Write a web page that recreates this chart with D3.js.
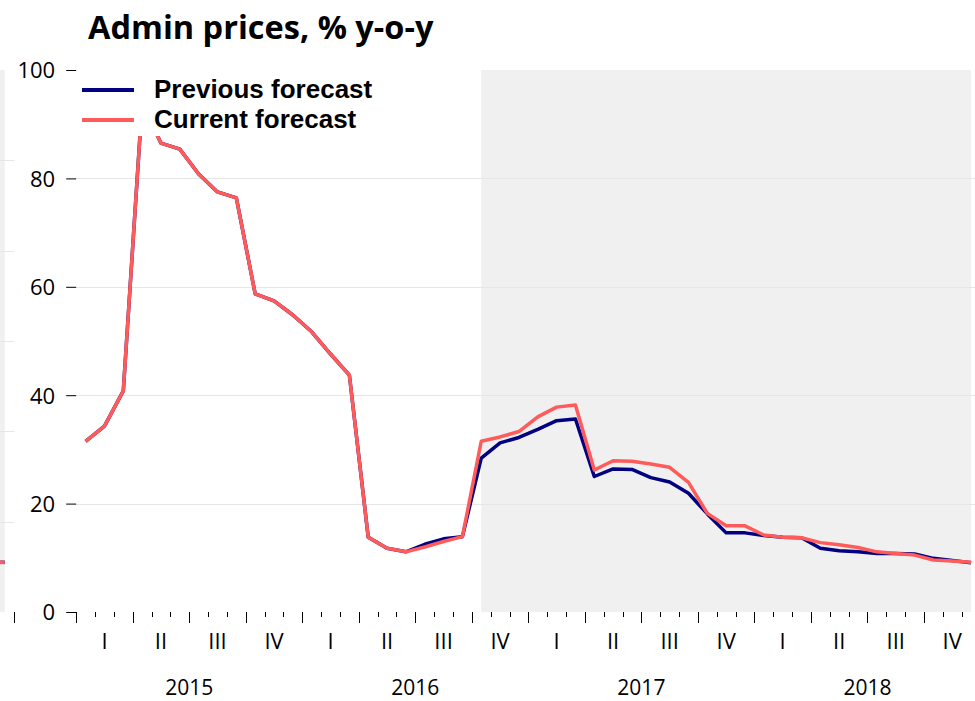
<!DOCTYPE html>
<html>
<head>
<meta charset="utf-8">
<script src="https://cdn.jsdelivr.net/npm/d3@7"></script>
<style>
  html, body { margin: 0; padding: 0; background: #fff; }
  svg { display: block; }
</style>
</head>
<body>
<svg id="chart" width="975" height="701"></svg>
<script>
// ---- data ----------------------------------------------------------------
const years = ["2015", "2016", "2017", "2018"];
const quarters = ["I", "II", "III", "IV"];
const months = d3.timeMonth
  .range(new Date(2015, 0, 1), new Date(2019, 0, 1))
  .map(d3.timeFormat("%Y-%m"));
const forecastStart = "2016-10";
const yTicks = [0, 20, 40, 60, 80, 100];

// Administered prices, % y-o-y, monthly Jan 2015 - Dec 2018
const previousForecast = [
  31.5, 34.3, 40.8, 94.0, 86.5, 85.4, 80.8, 77.5, 76.4, 58.7, 57.4, 54.8,
  51.7, 47.6, 43.7, 13.8, 11.75, 11.1, 12.5, 13.5, 13.9, 28.4, 31.2, 32.2,
  33.7, 35.3, 35.6, 25.0, 26.4, 26.3, 24.8, 24.0, 21.9, 18.1, 14.6, 14.6,
  14.1, 13.8, 13.7, 11.75, 11.3, 11.1, 10.8, 10.8, 10.7, 9.9, 9.5, 9.1
];
const currentForecast = [
  31.5, 34.3, 40.8, 94.0, 86.5, 85.4, 80.8, 77.5, 76.4, 58.7, 57.4, 54.8,
  51.7, 47.6, 43.7, 13.8, 11.75, 11.1, 12.0, 13.0, 13.9, 31.5, 32.3, 33.3,
  36.0, 37.8, 38.2, 26.2, 27.9, 27.8, 27.3, 26.7, 23.9, 18.2, 15.9, 15.9,
  14.2, 13.8, 13.7, 12.8, 12.4, 11.9, 11.1, 10.8, 10.5, 9.6, 9.4, 9.2
];

// right-hand tail of the neighbouring panel (same months, own scale)
const neighbourTicks = [0, 2, 4, 6, 8, 10, 12];
const neighbourTail = [1.1, 1.1];

const series = [
  { name: "Previous forecast", values: previousForecast, color: "#000080" },
  { name: "Current forecast",  values: currentForecast,  color: "#ff5b5b" }
];

// ---- layout --------------------------------------------------------------
const svg = d3.select("#chart");
const plot = { left: 76.2, right: 980.5, top: 70, bottom: 612 };
const axisFont = "'Open Sans', sans-serif";

const x = d3.scaleBand().domain(months).range([plot.left, plot.right]);
const y = d3.scaleLinear().domain([0, 100]).range([plot.bottom, plot.top]);
const cx = m => x(m) + x.bandwidth() / 2;
const lastMonth = months[months.length - 1];

// ---- neighbouring panel edge ---------------------------------------------
const nPlotRight = 14.2;
const nx = d3.scaleBand().domain(months)
  .range([nPlotRight - months.length * x.bandwidth(), nPlotRight]);
const ny = d3.scaleLinear().domain([0, 12]).range([plot.bottom, plot.top]);
const ncx = m => nx(m) + nx.bandwidth() / 2;
const nb = svg.append("g");
nb.append("rect")
  .attr("x", ncx(forecastStart))
  .attr("y", ny(12))
  .attr("width", ncx(lastMonth) - ncx(forecastStart))
  .attr("height", ny(0) - ny(12))
  .attr("fill", "#f0f0f0");
nb.selectAll("line.grid")
  .data(neighbourTicks.filter(v => v > 0 && v < 12))
  .join("line")
  .attr("x1", nx.range()[0]).attr("x2", nPlotRight)
  .attr("y1", d => Math.round(ny(d)) + 0.5).attr("y2", d => Math.round(ny(d)) + 0.5)
  .attr("stroke", "#e6e6e6");
nb.append("line")
  .attr("x1", Math.round(nPlotRight) + 0.5).attr("x2", Math.round(nPlotRight) + 0.5)
  .attr("y1", plot.bottom).attr("y2", plot.bottom + 11)
  .attr("stroke", "#000");
const nTailMonths = months.slice(-neighbourTail.length);
series.forEach(s => {
  nb.append("path")
    .datum(neighbourTail)
    .attr("fill", "none")
    .attr("stroke", s.color)
    .attr("stroke-width", 3.5)
    .attr("d", d3.line().x((d, i) => ncx(nTailMonths[i])).y(d => ny(d)));
});

// ---- forecast shading ------------------------------------------------------
svg.append("rect")
  .attr("x", cx(forecastStart))
  .attr("y", y(100))
  .attr("width", cx(lastMonth) - cx(forecastStart))
  .attr("height", y(0) - y(100))
  .attr("fill", "#f0f0f0");

// ---- gridlines -------------------------------------------------------------
svg.append("g")
  .selectAll("line")
  .data(yTicks.filter(v => v > 0 && v < 100))
  .join("line")
  .attr("x1", plot.left).attr("x2", plot.right)
  .attr("y1", d => Math.round(y(d)) + 0.5).attr("y2", d => Math.round(y(d)) + 0.5)
  .attr("stroke", "#e6e6e6");

// ---- y axis ----------------------------------------------------------------
const yAxis = svg.append("g")
  .attr("transform", `translate(${plot.left},0)`)
  .call(d3.axisLeft(y).tickValues(yTicks).tickSize(10).tickPadding(11));
yAxis.select(".domain").remove();
yAxis.selectAll("line").attr("stroke", "#000");
yAxis.selectAll("text")
  .attr("fill", "#000")
  .style("font-family", axisFont)
  .style("font-size", "22px")
  .attr("dy", "0.36em");

// ---- x axis: month ticks, quarter and year labels ---------------------------
const boundaries = months.map(m => x(m)).concat([plot.right]);
svg.append("g")
  .selectAll("line")
  .data(boundaries)
  .join("line")
  .attr("x1", d => Math.round(d) + 0.5).attr("x2", d => Math.round(d) + 0.5)
  .attr("y1", plot.bottom)
  .attr("y2", (d, i) => plot.bottom + (i % 3 === 0 ? 11 : 5))
  .attr("stroke", "#000");

const quarterCells = [];
years.forEach((yr, yi) => quarters.forEach((q, qi) => {
  quarterCells.push({ label: q, first: months[yi * 12 + qi * 3] });
}));
svg.append("g")
  .selectAll("text")
  .data(quarterCells)
  .join("text")
  .attr("x", d => x(d.first) + 1.5 * x.bandwidth())
  .attr("y", 649)
  .attr("text-anchor", "middle")
  .style("font-family", axisFont)
  .style("font-size", "22px")
  .text(d => d.label);

svg.append("g")
  .selectAll("text")
  .data(years)
  .join("text")
  .attr("x", (d, i) => x(months[i * 12]) + 6 * x.bandwidth())
  .attr("y", 695)
  .attr("text-anchor", "middle")
  .style("font-family", axisFont)
  .style("font-size", "21px")
  .text(d => d);

// ---- series lines ------------------------------------------------------------
const line = d3.line().x((d, i) => cx(months[i])).y(d => y(d));
svg.append("g")
  .selectAll("path")
  .data(series)
  .join("path")
  .attr("fill", "none")
  .attr("stroke", d => d.color)
  .attr("stroke-width", 3.5)
  .attr("stroke-linejoin", "round")
  .attr("d", d => line(d.values));

// ---- legend ------------------------------------------------------------------
const legend = svg.append("g");
legend.append("rect")
  .attr("x", 78).attr("y", 72).attr("width", 305).attr("height", 64)
  .attr("fill", "#fff");
const items = legend.selectAll("g.item")
  .data(series)
  .join("g")
  .attr("transform", (d, i) => `translate(0,${90 + i * 30})`);
items.append("line")
  .attr("x1", 82).attr("x2", 134)
  .attr("stroke", d => d.color)
  .attr("stroke-width", 4);
items.append("text")
  .attr("x", 154)
  .attr("y", 8)
  .style("font-family", "'Liberation Sans', Arial, sans-serif")
  .style("font-weight", "bold")
  .style("font-size", "26px")
  .text(d => d.name);

// ---- title -------------------------------------------------------------------
svg.append("text")
  .attr("x", 88)
  .attr("y", 39)
  .style("font-family", "'Open Sans', sans-serif")
  .style("font-weight", "bold")
  .style("font-size", "32.5px")
  .text("Admin prices, % y-o-y");
</script>
</body>
</html>
